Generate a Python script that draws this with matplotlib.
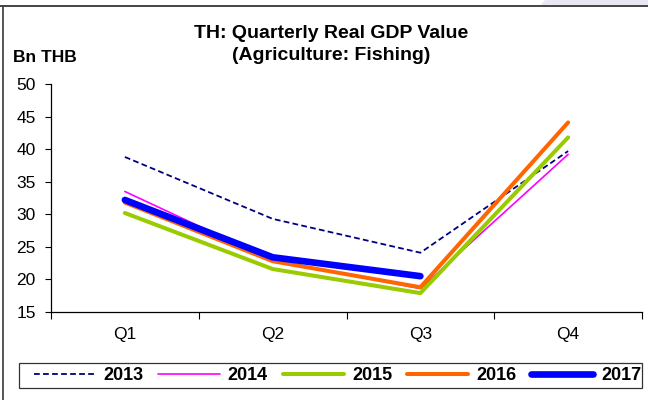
import matplotlib
matplotlib.use("Agg")
import matplotlib.pyplot as plt
from matplotlib.lines import Line2D
from matplotlib.patches import Polygon, Rectangle
import numpy as np

plt.rcParams['font.family'] = ['Liberation Sans', 'DejaVu Sans']

quarters = ['Q1', 'Q2', 'Q3', 'Q4']
years = ['2013', '2014', '2015', '2016', '2017']
gdp_2013 = [38.8, 29.3, 24.1, 39.7]
gdp_2014 = [33.5, 22.9, 18.6, 39.2]
gdp_2015 = [30.2, 21.6, 17.9, 41.8]
gdp_2016 = [31.8, 22.8, 18.8, 44.1]
gdp_2017 = [32.2, 23.4, 20.5]

series = [gdp_2013, gdp_2014, gdp_2015, gdp_2016, gdp_2017]
colors = ['#000080', '#FF00FF', '#99CC00', '#FF6600', '#0000FF']
widths = [1.3, 1.2, 2.9, 2.9, 4.8]
styles = [(0, (3.2, 1.8)), '-', '-', '-', '-']

W, H = 648, 400
fig = plt.figure(figsize=(6.48, 4.0), dpi=100)
ax = fig.add_axes([51 / W, (H - 312) / H, (642 - 51) / W, (312 - 84) / H])

x = np.arange(len(quarters))
for vals, yr, c, lw, ls in zip(series, years, colors, widths, styles):
    ax.plot(x[:len(vals)], vals, color=c, lw=lw, ls=ls, label=yr,
            solid_capstyle='round', dash_capstyle='butt')

ax.set_xlim(-0.5, 3.5)
ax.set_ylim(15, 50)
ax.set_yticks(np.arange(15, 51, 5))
ax.set_xticks(x)
ax.set_xticklabels(quarters)
ax.set_xticks(np.arange(-0.5, 3.6, 1), minor=True)
ax.tick_params(axis='x', which='major', length=0, pad=11, labelsize=12.5)
ax.tick_params(axis='x', which='minor', length=5, direction='out', width=0.8)
ax.tick_params(axis='y', length=4, direction='out', width=0.8, labelsize=12.5, pad=7)
for s in ['top', 'right']:
    ax.spines[s].set_visible(False)
for s in ['left', 'bottom']:
    ax.spines[s].set_linewidth(0.9)

# title and unit label
fig.text(331 / W, 1 - 33 / H, 'TH: Quarterly Real GDP Value', ha='center', va='center',
         fontsize=14, fontweight='bold')
fig.text(331 / W, 1 - 55 / H, '(Agriculture: Fishing)', ha='center', va='center',
         fontsize=14, fontweight='bold')
fig.text(13 / W, 1 - 57 / H, 'Bn THB', ha='left', va='center', fontsize=12.5, fontweight='bold')

# legend entries inside a separately drawn box
fig.add_artist(Rectangle((19 / W, (H - 388) / H), (642 - 19) / W, 25 / H, fill=False,
                         edgecolor='#333333', lw=0.9))
fig.legend(loc='center left', ncol=5, mode='expand',
           bbox_to_anchor=(34 / W, (H - 388) / H, (641 - 34) / W, 25 / H),
           borderaxespad=0, borderpad=0, frameon=False,
           handlelength=3.4, handletextpad=0.45, columnspacing=0.8,
           prop={'weight': 'bold', 'size': 13})

# outer frame and corner shading
fig.add_artist(Line2D([3 / W, 3 / W], [0, 1 - 6 / H], color='#555555', lw=1.4))
fig.add_artist(Line2D([0, 1], [1 - 6 / H, 1 - 6 / H], color='#444444', lw=1.4))
fig.add_artist(Polygon([(545 / W, 1), (1, 1), (1, 1 - 5 / H), (541 / W, 1 - 5 / H)],
                       closed=True, facecolor='#E8E8F3', edgecolor='none'))

fig.savefig('out.png', dpi=100)
